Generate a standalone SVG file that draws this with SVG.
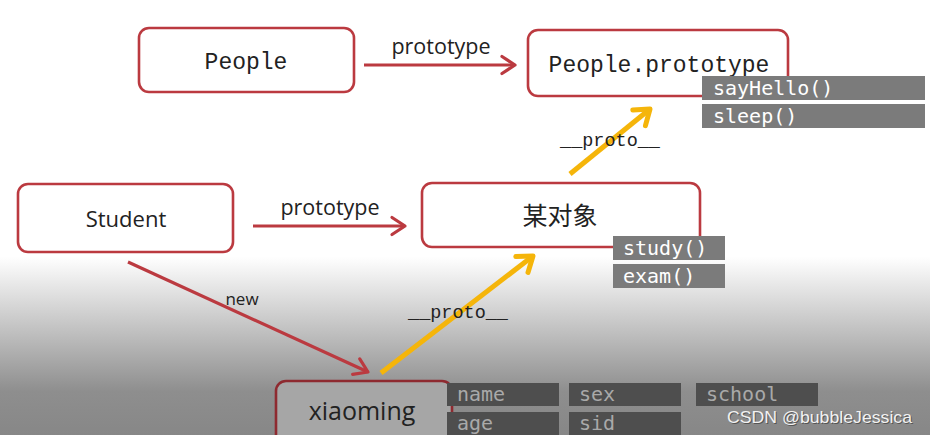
<svg xmlns="http://www.w3.org/2000/svg" width="930" height="435" viewBox="0 0 930 435">
<defs>
<linearGradient id="bg" gradientUnits="userSpaceOnUse" x1="0" y1="0" x2="0" y2="435">
<stop offset="0" stop-color="#ffffff"/>
<stop offset="0.59" stop-color="#ffffff"/>
<stop offset="0.9" stop-color="#8e8e8e"/>
<stop offset="1" stop-color="#878787"/>
</linearGradient>
<marker id="redHead" markerUnits="userSpaceOnUse" markerWidth="26" markerHeight="26" refX="21" refY="13" orient="auto">
<path d="M8,4.5 L21,13 L8,21.5" fill="none" stroke="#bb3a40" stroke-width="3.2" stroke-linecap="round" stroke-linejoin="round"/>
</marker>
<marker id="orgHead" markerUnits="userSpaceOnUse" markerWidth="30" markerHeight="30" refX="24" refY="15" orient="auto">
<path d="M10,5 L24,15 L10,25" fill="none" stroke="#f5b50a" stroke-width="5" stroke-linecap="round" stroke-linejoin="round"/>
</marker>
</defs>
<style>
.node{fill:#ffffff;stroke:#bb3a40;stroke-width:2.6}
.mono{font-family:"Liberation Mono","DejaVu Sans Mono",monospace;fill:#222}
.sans{font-family:"Open Sans","Liberation Sans",sans-serif;fill:#222}
.cjk{font-family:"Noto Sans CJK SC",sans-serif;fill:#222}
.bar{fill:#7b7b7b}
.bartxt{font-family:"DejaVu Sans Mono","Liberation Mono",monospace;fill:#ffffff;font-size:20px}
.dbar{fill:#4e4e4e}
.dbartxt{font-family:"DejaVu Sans Mono","Liberation Mono",monospace;fill:#a9a9a9;font-size:20px}
.red{stroke:#bb3a40;stroke-width:3.2;fill:none;marker-end:url(#redHead)}
.org{stroke:#f5b50a;stroke-width:5;fill:none;marker-end:url(#orgHead)}
</style>
<rect x="0" y="0" width="930" height="435" fill="url(#bg)"/>

<g id="connectors">
<line class="red" x1="364" y1="65" x2="515" y2="65"/>
<line class="red" x1="253" y1="226" x2="405" y2="226"/>
<line class="red" x1="128" y1="262" x2="368" y2="372"/>
<line class="org" x1="570" y1="174" x2="650" y2="109"/>
<line class="org" x1="381" y1="373" x2="533" y2="256"/>
<text class="sans" x="441" y="54" font-size="21.5" text-anchor="middle">prototype</text>
<text class="sans" x="330" y="215" font-size="21.5" text-anchor="middle">prototype</text>
<text class="sans" x="242" y="305" font-size="17" text-anchor="middle">new</text>
<text class="mono" x="610" y="146" font-size="18.5" text-anchor="middle">__proto__</text>
<text class="mono" x="458" y="318" font-size="18.5" text-anchor="middle">__proto__</text>
</g>

<g id="people">
<rect class="node" x="139" y="28" width="215" height="64" rx="10"/>
<text class="mono" x="246" y="69" font-size="23" text-anchor="middle">People</text>
</g>

<g id="people-prototype">
<rect class="node" x="528" y="30" width="260" height="66" rx="10"/>
<text class="mono" x="659" y="72" font-size="23" text-anchor="middle">People.prototype</text>
<rect class="bar" x="702" y="76" width="223" height="24"/>
<text class="bartxt" x="713" y="95">sayHello()</text>
<rect class="bar" x="702" y="104" width="223" height="24"/>
<text class="bartxt" x="713" y="123">sleep()</text>
</g>

<g id="student">
<rect class="node" x="18" y="184" width="215" height="68" rx="10"/>
<text class="sans" x="126" y="227" font-size="22" text-anchor="middle">Student</text>
</g>

<g id="mou-duixiang">
<rect class="node" x="422" y="183" width="278" height="64" rx="10"/>
<text class="cjk" x="560" y="225" font-size="25" text-anchor="middle">某对象</text>
<rect class="bar" x="613" y="236" width="112" height="24"/>
<text class="bartxt" x="623" y="255">study()</text>
<rect class="bar" x="613" y="264" width="112" height="24"/>
<text class="bartxt" x="623" y="283">exam()</text>
</g>

<g id="xiaoming">
<rect x="276" y="381" width="176" height="70" rx="10" fill="#a6a6a6" stroke="#8e2a30" stroke-width="2.6"/>
<text class="sans" x="362" y="420" font-size="25" text-anchor="middle" fill="#1e1e1e">xiaoming</text>
<rect class="dbar" x="447" y="383" width="112" height="23"/>
<text class="dbartxt" x="457" y="401">name</text>
<rect class="dbar" x="447" y="412" width="112" height="25"/>
<text class="dbartxt" x="457" y="430">age</text>
<rect class="dbar" x="569" y="383" width="112" height="23"/>
<text class="dbartxt" x="579" y="401">sex</text>
<rect class="dbar" x="569" y="412" width="112" height="25"/>
<text class="dbartxt" x="579" y="430">sid</text>
<rect class="dbar" x="696" y="383" width="122" height="23"/>
<text class="dbartxt" x="706" y="401">school</text>
</g>

<g id="watermark" font-family="'Liberation Sans Narrow','Liberation Sans',sans-serif" font-size="17">
<text x="728" y="424" fill="#555" textLength="185" lengthAdjust="spacingAndGlyphs">CSDN @bubbleJessica</text>
<text x="727" y="423" fill="#f2f2f2" textLength="185" lengthAdjust="spacingAndGlyphs">CSDN @bubbleJessica</text>
</g>
</svg>
